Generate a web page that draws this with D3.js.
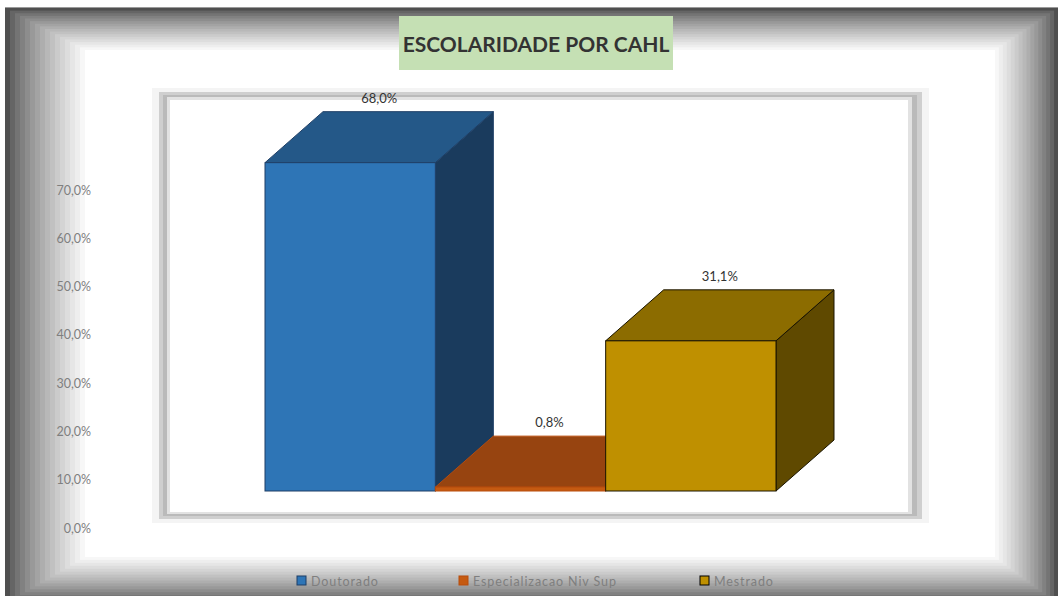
<!DOCTYPE html>
<html><head><meta charset="utf-8">
<script src="https://cdn.jsdelivr.net/npm/d3@7"></script>
<style>html,body{margin:0;padding:0;background:#fff;}svg{display:block;}</style>
</head><body>
<svg id="c" width="1058" height="596"></svg>
<script>
const categories = ["Doutorado", "Especializacao Niv Sup", "Mestrado"];
const values = [68.0, 0.8, 31.1];
const tickValues = [0, 10, 20, 30, 40, 50, 60, 70];
const title = "ESCOLARIDADE POR CAHL";
const frontColors = ["#2e75b6", "#c55a11", "#bf9000"];
const topColors = ["#245888", "#974410", "#8c6c00"];
const sideColors = ["#1a3b5d", "#6f310b", "#5f4900"];
const strokeColors = ["#1f3f66", "#b84c0c", "#1a1400"];

const svg = d3.select("#c");
const font = "Lato, 'Open Sans', sans-serif";
const loc = d3.formatLocale({decimal: ",", thousands: ".", grouping: [3], currency: ["", ""]});
const fmt = v => loc.format(".1f")(v) + "%";

// frame with stepped gradient
const N = 16;
const gray = d3.interpolateRgb("#4f4f4f", "#ffffff");
for (let i = 0; i <= N; i++) {
  const t = i / N;
  const l = 5 + t * 80, tp = 8 + t * 42, r = 1058 - t * 63, b = 604 - t * 47;
  svg.append("rect").attr("x", l).attr("y", tp).attr("width", r - l).attr("height", b - tp)
    .attr("fill", gray(Math.pow(t, 0.75)));
}
svg.append("rect").attr("x", 5).attr("y", 7).attr("width", 1053).attr("height", 1).attr("fill", "#9a9a9a");

// title
svg.append("rect").attr("x", 399).attr("y", 16).attr("width", 274).attr("height", 54).attr("fill", "#c5e0b4");
svg.append("text").attr("x", 536).attr("y", 52).attr("text-anchor", "middle")
  .attr("font-family", font).attr("font-weight", "bold").attr("font-size", 21).attr("fill", "#333")
  .text(title);

// plot area border
const pa = [["#f4f4f4", 152, 88, 929, 523], ["#cfcfcf", 159, 92, 922, 519], ["#bababa", 163, 95, 917, 516], ["#e2e2e2", 167, 97, 912, 514], ["#ffffff", 170, 100, 908, 512]];
pa.forEach(([c, x0, y0, x1, y1]) => svg.append("rect").attr("x", x0).attr("y", y0).attr("width", x1 - x0).attr("height", y1 - y0).attr("fill", c));

// scales
const yAxis = d3.scaleLinear().domain([0, 70]).range([528, 190]);
const yBar = d3.scaleLinear().domain([0, 70]).range([491, 153]);
const x = d3.scaleBand().domain(categories).range([265, 776]).padding(0);
const dx = 58, dy = -51;

// axis labels
const ax = svg.append("g").attr("transform", "translate(91,0)");
ax.call(d3.axisLeft(yAxis).tickValues(tickValues).tickFormat(fmt).tickSize(0).tickPadding(0));
ax.select(".domain").remove();
ax.selectAll("text").attr("font-family", font).attr("font-size", 12.5).attr("fill", "#7f7f7f");

// 3D bars
categories.forEach((c, i) => {
  const v = values[i];
  const x0 = x(c), x1 = x(c) + x.bandwidth();
  const yt = yBar(v), yb = yBar(0);
  const g = svg.append("g");
  const sw = 1;
  g.append("path").attr("d", `M${x1},${yt}L${x1 + dx},${yt + dy}L${x1 + dx},${yb + dy}L${x1},${yb}Z`)
    .attr("fill", sideColors[i]).attr("stroke", strokeColors[i]).attr("stroke-width", sw).attr("stroke-linejoin", "round");
  g.append("path").attr("d", `M${x0},${yt}L${x0 + dx},${yt + dy}L${x1 + dx},${yt + dy}L${x1},${yt}Z`)
    .attr("fill", topColors[i]).attr("stroke", strokeColors[i]).attr("stroke-width", sw).attr("stroke-linejoin", "round");
  g.append("rect").attr("x", x0).attr("y", yt).attr("width", x1 - x0).attr("height", yb - yt)
    .attr("fill", frontColors[i]).attr("stroke", strokeColors[i]).attr("stroke-width", sw);
  svg.append("text").attr("x", (x0 + x1) / 2 + dx / 2).attr("y", yt + dy - 9)
    .attr("text-anchor", "middle").attr("font-family", font).attr("font-size", 13).attr("fill", "#333")
    .text(fmt(v));
});
svg.selectAll("text").raise();

// legend
const legendX = [297, 459, 700];
categories.forEach((c, i) => {
  svg.append("rect").attr("x", legendX[i]).attr("y", 576).attr("width", 9).attr("height", 9)
    .attr("fill", frontColors[i]).attr("stroke", i === 2 ? "#000" : strokeColors[i]).attr("stroke-width", 1);
  svg.append("text").attr("x", legendX[i] + 14).attr("y", 586)
    .attr("font-family", font).attr("font-size", 12.5).attr("letter-spacing", 0.9).attr("fill", "#7f7f7f")
    .text(c);
});
</script>
</body></html>
